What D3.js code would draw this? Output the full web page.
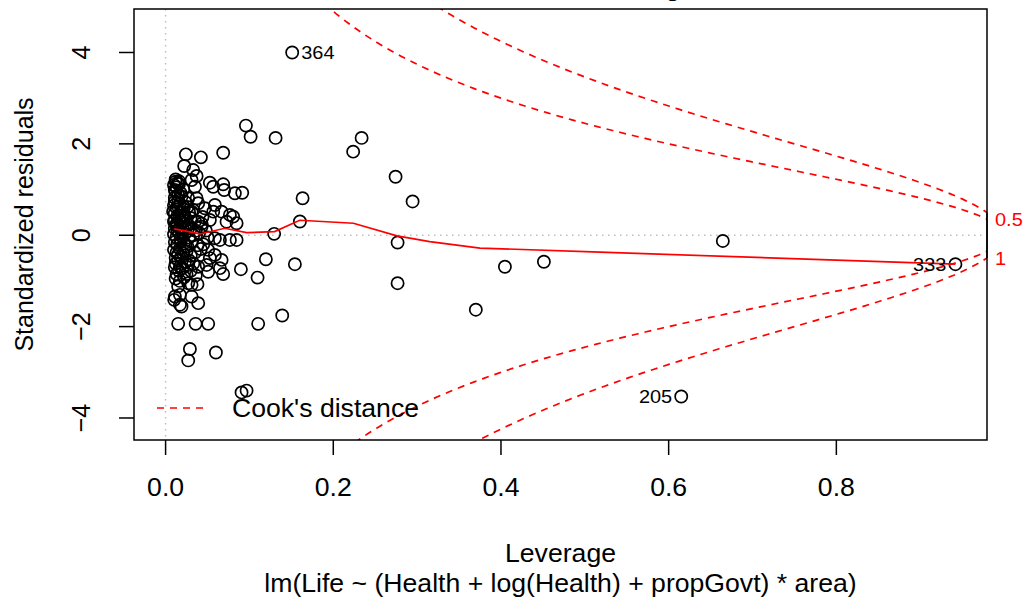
<!DOCTYPE html>
<html>
<head>
<meta charset="utf-8">
<script src="https://cdn.jsdelivr.net/npm/d3@7"></script>
<style>
  html, body { margin: 0; padding: 0; background: #fff; }
  svg { display: block; font-family: "Liberation Sans", Arial, Helvetica, sans-serif; }
</style>
</head>
<body>
<div id="chart"></div>
<script>
// leverage (hat values) and standardized residuals of the fitted model
const leverage = [
  0.151, 0.615, 0.942, 0.0958, 0.1014, 0.1312, 0.2237, 0.2338, 0.2743, 0.2946,
  0.1634, 0.1602, 0.1295, 0.2767, 0.2767, 0.370, 0.4047, 0.4512, 0.6646, 0.1196,
  0.1542, 0.0898, 0.1097, 0.1391, 0.1104, 0.0508, 0.0358, 0.015, 0.029, 0.027,
  0.060, 0.0906, 0.0966,
  0.0687, 0.0242, 0.0421, 0.0222, 0.0329, 0.037, 0.0528, 0.0568, 0.0687, 0.0699,
  0.0826, 0.0914, 0.031, 0.035, 0.0469, 0.0588, 0.0568, 0.0668, 0.0767, 0.0806,
  0.0727, 0.0528, 0.0847, 0.0389, 0.0429, 0.027, 0.037, 0.0389, 0.031, 0.023,
  0.027, 0.0648, 0.0767, 0.0847, 0.0588, 0.0508, 0.0588, 0.0528, 0.0668, 0.0489,
  0.0648, 0.0508, 0.0687, 0.0131, 0.0171, 0.027, 0.0389, 0.031, 0.038, 0.0111,
  0.0171, 0.031, 0.0171, 0.0389, 0.0103, 0.019, 0.012, 0.0143, 0.011, 0.015,
  0.011, 0.015, 0.009, 0.011,
  0.010, 0.013, 0.016, 0.012, 0.018, 0.021, 0.011, 0.015, 0.019, 0.024,
  0.010, 0.013, 0.017, 0.021, 0.026, 0.011, 0.014, 0.018, 0.022, 0.028,
  0.033, 0.010, 0.013, 0.016, 0.020, 0.024, 0.030, 0.035, 0.011, 0.014,
  0.017, 0.021, 0.025, 0.030, 0.036, 0.010, 0.013, 0.016, 0.019, 0.023,
  0.028, 0.033, 0.040, 0.011, 0.014, 0.018, 0.022, 0.026, 0.031, 0.038,
  0.010, 0.013, 0.017, 0.021, 0.025, 0.030, 0.035, 0.042, 0.012, 0.015,
  0.019, 0.023, 0.028, 0.033, 0.011, 0.016, 0.020, 0.025, 0.030, 0.036,
  0.012, 0.017, 0.022, 0.027, 0.014, 0.019, 0.015, 0.045, 0.048, 0.044,
  0.050, 0.043, 0.012, 0.016, 0.013, 0.018, 0.022, 0.012, 0.015, 0.020
];
const stdres = [
  4.00, -3.53, -0.634, 2.40, 2.155, 2.13, 1.83, 2.13, 1.28, 0.74,
  0.81, 0.30, 0.03, -0.16, -1.05, -1.63, -0.69, -0.58, -0.125, -0.525,
  -0.634, -0.743, -0.927, -1.757, -1.939, -1.939, -1.939, -1.939, -2.49, -2.74,
  -2.566, -3.44, -3.40,
  1.805, 1.77, 1.705, 1.515, 1.427, 1.296, 1.15, 1.062, 1.115, 0.99,
  0.918, 0.93, 1.209, 1.062, 0.59, 0.662, 0.516, 0.516, 0.444, 0.407,
  0.297, 0.334, 0.262, 0.297, 0.188, 0.809, 0.809, 0.70, 0.516, 0.407,
  0.225, -0.103, -0.103, -0.103, -0.066, -0.32, -0.43, -0.50, -0.54, -0.65,
  -0.72, -0.80, -0.85, -0.85, -0.69, -0.65, -0.69, -1.086, -1.071, -1.342,
  -1.305, -1.342, -1.52, -1.486, -1.414, -1.56, 1.17, 1.137, 0.99, 0.88,
  0.734, 0.625, 0.516, 0.334,
  1.10, 1.05, 1.12, 0.95, 0.92, 1.00, 0.82, 0.78, 0.85, 0.72,
  0.65, 0.60, 0.68, 0.58, 0.62, 0.48, 0.42, 0.50, 0.45, 0.50,
  0.55, 0.30, 0.25, 0.35, 0.28, 0.32, 0.38, 0.30, 0.15, 0.10,
  0.18, 0.12, 0.20, 0.15, 0.10, 0.02, -0.05, 0.05, -0.02, 0.03,
  -0.05, 0.00, 0.05, -0.15, -0.20, -0.12, -0.18, -0.25, -0.15, -0.22,
  -0.32, -0.38, -0.30, -0.40, -0.35, -0.45, -0.38, -0.30, -0.50, -0.55,
  -0.48, -0.60, -0.55, -0.62, -0.70, -0.78, -0.72, -0.85, -0.78, -0.88,
  -0.95, -1.00, -0.92, -1.05, 0.20, 0.40, -0.42, -0.20, 0.10, 0.40,
  -0.05, 0.25, 1.22, 1.18, 0.22, -0.08, 0.62, -0.62, -1.12, 0.05
];
// observations flagged by Cook's distance: index into the arrays above
const flaggedIdx = [0, 1, 2];
const flaggedLabel = ["364", "205", "333"];

// smoother through the points (panel.smooth)
const smoothX = [0.0103, 0.041, 0.0707, 0.0966, 0.130, 0.160, 0.224, 0.276, 0.315, 0.375, 0.518, 0.942];
const smoothY = [0.138, 0.028, 0.153, 0.057, 0.079, 0.328, 0.262, -0.015, -0.14, -0.28, -0.37, -0.634];

const cookLevels = [0.5, 1];
const nParams = 12;

const xTicks = [0, 0.2, 0.4, 0.6, 0.8];
const xTickLabels = ["0.0", "0.2", "0.4", "0.6", "0.8"];
const yTicks = [-4, -2, 0, 2, 4];
const yTickLabels = ["\u22124", "\u22122", "0", "2", "4"];

const title = "Residuals vs Leverage";
const xLabel = "Leverage";
const yLabel = "Standardized residuals";
const subCaption = "lm(Life ~ (Health + log(Health) + propGovt) * area)";

const W = 1026, H = 602;
const box = { left: 134, right: 987, top: 9, bottom: 440 };
const fs = 25;          // base font size
const fsSmall = 18.75;  // cex = 0.75
const sx = 1.065;       // glyphs run a little wide horizontally

// R style range extension
function extend(lo, hi, f) { const d = (hi - lo) * f; return [lo - d, hi + d]; }

const xlim = [0, d3.max(leverage)];
const ylim = extend(d3.min(stdres), d3.max(stdres), 0.08);

const x = d3.scaleLinear().domain(extend(xlim[0], xlim[1], 0.04)).range([box.left, box.right]);
const y = d3.scaleLinear().domain(extend(ylim[0], ylim[1], 0.04)).range([box.bottom, box.top]);

const svg = d3.select("#chart").append("svg")
    .attr("width", W)
    .attr("height", H)
    .attr("viewBox", [0, 0, W, H]);

// text helper: place at (px, py), optionally rotated
function label(px, py, str, opts = {}) {
  const rot = opts.rotate ? ` rotate(${opts.rotate})` : "";
  return svg.append("text")
      .attr("transform", `translate(${px},${py}) scale(${sx},1)${rot}`)
      .attr("text-anchor", opts.anchor || "middle")
      .attr("dy", opts.dy || null)
      .attr("font-size", opts.size || fs)
      .attr("fill", opts.fill || "#000")
      .text(str);
}

svg.append("defs").append("clipPath").attr("id", "plotclip")
  .append("rect")
    .attr("x", box.left).attr("y", box.top)
    .attr("width", box.right - box.left).attr("height", box.bottom - box.top);

const plot = svg.append("g").attr("clip-path", "url(#plotclip)");

// reference lines at zero
plot.append("line")
    .attr("x1", box.left).attr("x2", box.right)
    .attr("y1", y(0)).attr("y2", y(0))
    .attr("stroke", "#bebebe").attr("stroke-width", 1.5).attr("stroke-dasharray", "1.5,4.5");
plot.append("line")
    .attr("x1", x(0)).attr("x2", x(0))
    .attr("y1", box.top).attr("y2", box.bottom)
    .attr("stroke", "#bebebe").attr("stroke-width", 1.5).attr("stroke-dasharray", "1.5,4.5");

// points
plot.append("g")
  .selectAll("circle")
  .data(leverage.map((d, i) => [d, stdres[i]]))
  .join("circle")
    .attr("cx", d => x(d[0]))
    .attr("cy", d => y(d[1]))
    .attr("r", 6.1)
    .attr("fill", "none")
    .attr("stroke", "#000")
    .attr("stroke-width", 1.7);

// smoother
const line = d3.line().x(d => x(d[0])).y(d => y(d[1]));
plot.append("path")
    .datum(smoothX.map((d, i) => [d, smoothY[i]]))
    .attr("d", line)
    .attr("fill", "none")
    .attr("stroke", "#ff0000")
    .attr("stroke-width", 1.7);

// Cook's distance contours
const usr = x.domain();
const h0 = Math.min(d3.min(leverage), d3.max(leverage) / 100);
const hh = d3.range(101).map(i => h0 + (usr[1] - h0) * i / 100);
cookLevels.forEach(crit => {
  const cl = hh.map(h => [h, Math.sqrt(crit * nParams * (1 - h) / h)]);
  [1, -1].forEach(s => {
    plot.append("path")
        .datum(cl.map(d => [d[0], s * d[1]]))
        .attr("d", line)
        .attr("fill", "none")
        .attr("stroke", "#ff0000")
        .attr("stroke-width", 1.7)
        .attr("stroke-dasharray", "7,6");
  });
});

// box
svg.append("rect")
    .attr("x", box.left).attr("y", box.top)
    .attr("width", box.right - box.left).attr("height", box.bottom - box.top)
    .attr("fill", "none").attr("stroke", "#000").attr("stroke-width", 1.5);

// x axis
svg.append("g").selectAll("line").data(xTicks).join("line")
    .attr("x1", d => x(d)).attr("x2", d => x(d))
    .attr("y1", box.bottom).attr("y2", box.bottom + 15)
    .attr("stroke", "#000").attr("stroke-width", 1.5);
xTicks.forEach((d, i) => label(x(d), box.bottom + 56, xTickLabels[i]));

// y axis
svg.append("g").selectAll("line").data(yTicks).join("line")
    .attr("x1", box.left - 15).attr("x2", box.left)
    .attr("y1", d => y(d)).attr("y2", d => y(d))
    .attr("stroke", "#000").attr("stroke-width", 1.5);
yTicks.forEach((d, i) => label(box.left - 44, y(d), yTickLabels[i], { rotate: -90 }));

// Cook's distance levels on the right margin, skipping overlapping labels like R does
const xmax = Math.min(0.99, usr[1]);
const ymult = Math.sqrt(nParams * (1 - xmax) / xmax);
const aty = cookLevels.map(c => Math.sqrt(c) * ymult);
const rightAt = aty.map(a => -a).reverse().concat(aty);
const rightLab = cookLevels.slice().reverse().concat(cookLevels).map(String);
let lastY = null;
rightAt.forEach((v, i) => {
  const py = y(v);
  if (lastY !== null && Math.abs(py - lastY) < fsSmall * 0.9) return;
  lastY = py;
  label(box.right + 8, py, rightLab[i], { anchor: "start", dy: "0.36em", size: fsSmall, fill: "#ff0000" });
});
svg.append("line")
    .attr("x1", box.right).attr("x2", box.right)
    .attr("y1", y(rightAt[rightAt.length - 1])).attr("y2", y(rightAt[0]))
    .attr("stroke", "#000").attr("stroke-width", 1.5);

// labels of flagged observations
const mid = (d3.min(leverage) + d3.max(leverage)) / 2;
flaggedIdx.forEach((k, i) => {
  const right = leverage[k] <= mid;
  label(x(leverage[k]) + (right ? 9 : -9), y(stdres[k]), flaggedLabel[i],
        { anchor: right ? "start" : "end", dy: "0.36em", size: fsSmall });
});

// legend
svg.append("line")
    .attr("x1", box.left + 23).attr("x2", box.left + 72)
    .attr("y1", box.bottom - 32).attr("y2", box.bottom - 32)
    .attr("stroke", "#ff0000").attr("stroke-width", 1.7)
    .attr("stroke-dasharray", "7,6");
label(box.left + 98, box.bottom - 32, "Cook's distance", { anchor: "start", dy: "0.36em" });

// titles
const cx = (box.left + box.right) / 2;
label(cx, box.top - 13, title);
label(cx, box.bottom + 122, xLabel);
label(cx, box.bottom + 152, subCaption);
label(box.left - 101, (box.top + box.bottom) / 2, yLabel, { rotate: -90 });
</script>
</body>
</html>
